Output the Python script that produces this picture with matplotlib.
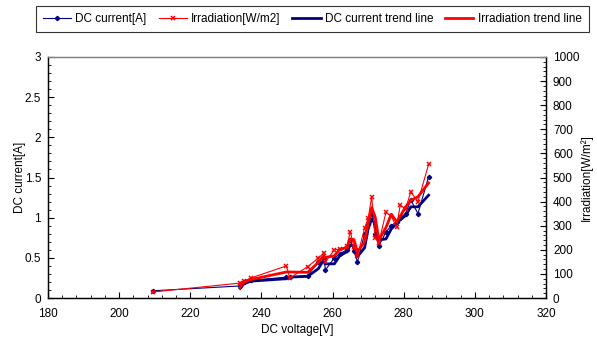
import matplotlib
matplotlib.use("Agg")
import matplotlib.pyplot as plt
from matplotlib.ticker import MultipleLocator
import numpy as np

plt.rcParams['font.family'] = ['Liberation Sans', 'DejaVu Sans']

voltage = [209.5, 234, 235, 237, 247, 248, 253, 256, 257.5, 258, 260.5, 262, 264, 265,
           266, 267, 269, 270, 271, 272, 273, 275, 276.5, 278, 279, 280.5, 282, 284, 287]
current = [0.09, 0.15, 0.2, 0.22, 0.26, 0.26, 0.28, 0.45, 0.5, 0.35, 0.5, 0.55, 0.6, 0.72,
           0.58, 0.45, 0.8, 0.92, 1.05, 0.8, 0.65, 0.82, 0.9, 0.95, 1.0, 1.05, 1.22, 1.05, 1.51]
irradiation = [25, 62, 70, 83, 133, 83, 130, 165, 187, 150, 200, 203, 215, 275,
               210, 175, 290, 330, 420, 250, 230, 355, 340, 293, 385, 370, 440, 400, 555]

v = np.array(voltage)
c = np.array(current)
r = np.array(irradiation)
# two-period moving average trend lines
c_tr = (c[1:] + c[:-1]) / 2
r_tr = (r[1:] + r[:-1]) / 2

fig = plt.figure(figsize=(5.97, 3.45), dpi=100)
ax = fig.add_axes([0.0804, 0.1362, 0.8342, 0.6986])
ax2 = ax.twinx()

navy = '#000080'
red = '#FF0000'

l1, = ax.plot(v, c, color=navy, lw=0.8, marker='D', ms=2.2, label='DC current[A]')
l3, = ax.plot(v[1:], c_tr, color=navy, lw=2.0, label='DC current trend line')
l2, = ax2.plot(v, r, color=red, lw=0.8, marker='x', ms=3.5, mew=1.1, label='Irradiation[W/m2]')
l4, = ax2.plot(v[1:], r_tr, color=red, lw=2.0, label='Irradiation trend line')

ax.set_xlim(180, 320)
ax.set_ylim(0, 3)
ax2.set_ylim(0, 1000)

ax.xaxis.set_major_locator(MultipleLocator(20))
ax.xaxis.set_minor_locator(MultipleLocator(4))
ax.yaxis.set_major_locator(MultipleLocator(0.5))
ax.yaxis.set_minor_locator(MultipleLocator(0.1))
ax2.yaxis.set_major_locator(MultipleLocator(100))
ax2.yaxis.set_minor_locator(MultipleLocator(20))

ax.yaxis.set_major_formatter(matplotlib.ticker.FuncFormatter(lambda x, p: ('%g' % x)))

for a in (ax, ax2):
    a.tick_params(which='major', direction='in', length=4, width=0.8, labelsize=8.5)
    a.tick_params(which='minor', direction='in', length=2, width=0.6)
ax.tick_params(axis='x', pad=7)
ax.tick_params(axis='y', pad=5)
ax2.tick_params(axis='y', pad=5)

for a in (ax, ax2):
    for s in a.spines.values():
        s.set_linewidth(0.9)
ax.spines['top'].set_color('#808080')
ax2.spines['top'].set_color('#808080')

ax.set_xlabel('DC voltage[V]', fontsize=8.5, labelpad=3)
ax.set_ylabel('DC current[A]', fontsize=8.5)
ax.yaxis.set_label_coords(-0.045, 0.5)
ax2.set_ylabel('Irradiation[W/m²]', fontsize=8.5)
ax2.yaxis.set_label_coords(1.068, 0.5)

leg = fig.legend(handles=[l1, l2, l3, l4], loc='center', bbox_to_anchor=(0.523, 0.945),
                 ncol=4, fontsize=8.5, frameon=True, fancybox=False, edgecolor='black',
                 handlelength=2.4, handletextpad=0.35, columnspacing=1.0, borderpad=0.6)
leg.get_frame().set_linewidth(0.8)

fig.savefig('out.png', dpi=100)
